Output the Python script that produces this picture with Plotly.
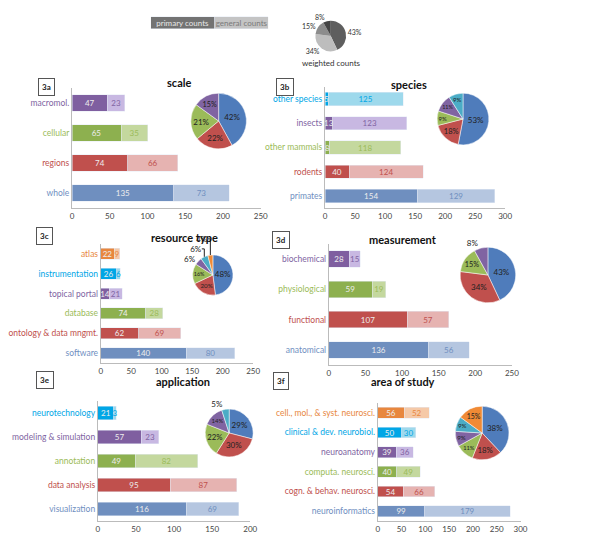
import plotly.graph_objects as go

# Bar categories listed bottom to top, with primary / general counts
scale_cats = ["whole", "regions", "cellular", "macromol."]
scale_primary = [135, 74, 65, 47]
scale_general = [73, 66, 35, 23]
scale_pie = [42, 22, 21, 15]

species_cats = ["primates", "rodents", "other mammals", "insects", "other species"]
species_primary = [154, 40, 8, 13, 5]
species_general = [129, 124, 118, 123, 125]
species_pie = [53, 18, 9, 11, 9]

rtype_cats = ["software", "ontology & data mngmt.", "database", "topical portal", "instrumentation", "atlas"]
rtype_primary = [140, 62, 74, 14, 26, 22]
rtype_general = [80, 69, 28, 21, 6, 9]
rtype_pie = [48, 20, 16, 6, 6, 4]

meas_cats = ["anatomical", "functional", "physiological", "biochemical"]
meas_primary = [136, 107, 59, 28]
meas_general = [56, 57, 19, 15]
meas_pie = [43, 34, 15, 8]

app_cats = ["visualization", "data analysis", "annotation", "modeling & simulation", "neurotechnology"]
app_primary = [116, 95, 49, 57, 21]
app_general = [69, 87, 82, 23, 3]
app_pie = [29, 30, 22, 14, 5]

area_cats = ["neuroinformatics", "cogn. & behav. neurosci.", "computa. neurosci.", "neuroanatomy",
             "clinical & dev. neurobiol.", "cell., mol., & syst. neurosci."]
area_primary = [99, 54, 40, 39, 50, 56]
area_general = [179, 66, 49, 36, 30, 52]
area_pie = [38, 18, 11, 9, 9, 15]

legend_pie = [43, 34, 15, 8]

DARK = ["#6F8FBF", "#C0504D", "#8DB04F", "#7F5FA0", "#00A6E6", "#E8873E"]
LIGHT = ["#B5C6E0", "#E6B3B1", "#C4D89E", "#C8B8E2", "#9ED9EC", "#F5C9A8"]
LABEL = ["#6F8FBF", "#C0504D", "#9BBB59", "#8064A2", "#00A6E6", "#E8873E"]
PIE = ["#4F7CBB", "#C0504D", "#9BBB59", "#8064A2", "#4BACC6", "#F08A35"]

W, H = 600, 535


def fx(a, b):
    return [a / W, b / W]


def fy(top, bottom):
    return [1 - bottom / H, 1 - top / H]


panels = [  # cats, primary, general, pie, xmax, dtick, x px, y px, pie center, r, title, tag
    (scale_cats, scale_primary, scale_general, scale_pie, 250, 50, (48, 245), (80, 200), (201, 113), 29, "scale", "3a", (145, 66), (13, 70)),
    (species_cats, species_primary, species_general, species_pie, 300, 50, (312, 500), (79, 200), (456, 111), 27, "species", "3b", (400, 68), (270, 70)),
    (rtype_cats, rtype_primary, rtype_general, rtype_pie, 250, 50, (78, 237), (236, 355), (195, 267), 21, "resource type", "3c", (128, 229), (10, 228)),
    (meas_cats, meas_primary, meas_general, meas_pie, 250, 50, (316, 507), (236, 357), (482, 267), 29, "measurement", "3d", (393, 231), (266, 232)),
    (app_cats, app_primary, app_general, app_pie, 200, 50, (75, 234), (393, 513), (212, 425), 25, "application", "3e", (134, 382), (10, 381)),
    (area_cats, area_primary, area_general, area_pie, 300, 50, (367, 516), (395, 513), (476, 425), 28, "area of study", "3f", (393, 382), (266, 382)),
]

fig = go.Figure()
layout = dict(annotations=[])

for i, (cats, prim, gen, pie, xmax, dt, xp, yp, pc, r, title, tag, tpos, bpos) in enumerate(panels):
    n = i + 1
    k = len(cats)
    fig.add_trace(go.Bar(
        y=cats, x=prim, orientation="h", width=0.55,
        marker_color=DARK[:k], text=prim, textposition="inside", insidetextanchor="middle", textangle=0,
        constraintext="none", textfont=dict(color="#EDEDED", size=8), xaxis=f"x{n}", yaxis=f"y{n}", showlegend=False
    ))
    fig.add_trace(go.Bar(
        y=cats, x=gen, orientation="h", width=0.55,
        marker_color=LIGHT[:k], text=gen, textposition="inside", insidetextanchor="middle", textangle=0,
        constraintext="none", textfont=dict(color=LABEL[:k], size=8), xaxis=f"x{n}", yaxis=f"y{n}", showlegend=False
    ))
    layout[f"xaxis{n}"] = dict(domain=fx(*xp), anchor=f"y{n}", range=[0, xmax], dtick=dt,
                               showgrid=False, showline=True, linecolor="#BBBBBB", ticks="", ticklen=0,
                               tickfont=dict(size=8, color="#444"), zeroline=False)
    layout[f"yaxis{n}"] = dict(domain=fy(*yp), anchor=f"x{n}", showline=True, linecolor="#BBBBBB",
                               tickvals=cats, ticktext=[f"<span style='color:{LABEL[j]}'>{c}</span>" for j, c in enumerate(cats)],
                               tickfont=dict(size=8.5), ticks="", showgrid=False, range=[-0.5, k - 0.5])
    fig.add_trace(go.Pie(
        values=pie, sort=False, direction="clockwise", marker=dict(colors=PIE[:len(pie)], line=dict(color="white", width=0.5)),
        texttemplate="%{value}%", textposition=["inside" if v >= 9 else "outside" for v in pie],
        textfont=dict(size=8, color="#222"), insidetextorientation="horizontal",
        domain=dict(x=fx(pc[0] - r, pc[0] + r), y=fy(pc[1] - r, pc[1] + r)), showlegend=False, hoverinfo="skip"
    ))
    layout["annotations"].append(dict(text=f"<b>{title}</b>", x=tpos[0] / W, y=1 - tpos[1] / H, xref="paper", yref="paper",
                                      showarrow=False, font=dict(size=11, color="#111")))
    layout["annotations"].append(dict(text=f"<b>{tag}</b>", x=bpos[0] / W, y=1 - bpos[1] / H, xref="paper", yref="paper",
                                      showarrow=False, font=dict(size=8, color="#222"), bordercolor="#555", borderwidth=1,
                                      borderpad=3, bgcolor="white"))

# Top legend: primary / general counts box and weighted counts pie
fig.add_trace(go.Bar(y=[0], x=[67], orientation="h", marker_color="#737373", text=["primary counts"],
                     textposition="inside", insidetextanchor="middle", constraintext="none", textangle=0,
                     textfont=dict(color="#E8E8E8", size=8), xaxis="x7", yaxis="y7", showlegend=False))
fig.add_trace(go.Bar(y=[0], x=[56], orientation="h", marker_color="#C4C4C4", text=["general counts"],
                     textposition="inside", insidetextanchor="middle", constraintext="none", textangle=0,
                     textfont=dict(color="#7A7A7A", size=8), xaxis="x7", yaxis="y7", showlegend=False))
layout["xaxis7"] = dict(domain=fx(130, 253), anchor="y7", range=[0, 123], visible=False)
layout["yaxis7"] = dict(domain=fy(7, 22), anchor="x7", range=[-0.5, 0.5], visible=False)
fig.add_trace(go.Pie(
    values=legend_pie, sort=False, direction="clockwise", marker=dict(colors=["#5E5E5E", "#BDBDBD", "#8C8C8C", "#454545"]),
    texttemplate="%{value}%", textposition="outside", textfont=dict(size=7, color="#333"),
    domain=dict(x=fx(302, 334), y=fy(12, 44)), showlegend=False, hoverinfo="skip"
))
layout["annotations"].append(dict(text="weighted counts", x=319 / W, y=1 - 48 / H, xref="paper", yref="paper",
                                  showarrow=False, font=dict(size=8, color="#333")))

fig.update_layout(
    **layout,
    barmode="stack",
    width=W, height=H,
    margin=dict(l=0, r=0, t=0, b=0),
    paper_bgcolor="white", plot_bgcolor="white",
    font=dict(family="Lato")
)

fig.write_html("out.html")
